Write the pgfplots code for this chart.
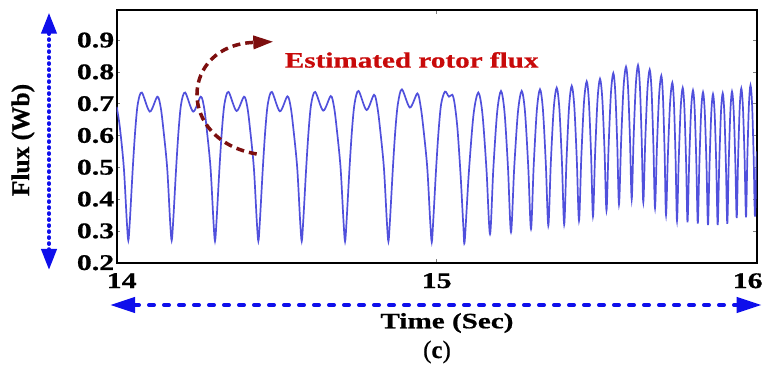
\documentclass[border=0pt]{standalone}
\usepackage{pgfplots}
\pgfplotsset{compat=1.18}
\usepackage{fontspec}
\setmainfont{Liberation Serif}
\newfontfamily\sfont{Liberation Serif}[FakeStretch=1.33, FakeBold=0.7]
\newfontfamily\nfont{Liberation Serif}[FakeBold=0.7]
\usetikzlibrary{arrows.meta}
\definecolor{sig}{RGB}{80,80,220}
\definecolor{maroonar}{RGB}{125,15,15}
\definecolor{annred}{RGB}{200,10,10}
\definecolor{arrblue}{RGB}{15,15,235}
\begin{document}
\begin{tikzpicture}
\useasboundingbox (-116.7bp,-115.3bp) rectangle (647.3bp,262.7bp);
\begin{axis}[
  at={(0,0)}, anchor=south west, scale only axis,
  width=640bp, height=252.2bp,
  xmin=14, xmax=16, ymin=0.2, ymax=0.993,
  xtick={14,15,16}, xticklabels={{\hspace*{10bp}14},15,{16\hspace*{18bp}}},
  ytick={0.2,0.3,0.4,0.5,0.6,0.7,0.8,0.9},
  yticklabels={0.2,0.3,0.4,0.5,0.6,0.7,0.8,0.9},
  tick align=inside, major tick length=3.5bp,
  tick style={gray, line width=0.6bp},
  axis line style={line width=2bp, black},
  tick label style={font=\sfont\bfseries\fontsize{22.5}{26}\selectfont},
  yticklabel style={xshift=1bp},
  xticklabel style={yshift=-7bp},
]
\addplot[sig, line width=1.7bp, smooth, tension=0.5] coordinates {
(14.0000,0.69) (14.0097,0.627) (14.0222,0.50) (14.0316,0.33)
(14.0363,0.27) (14.0410,0.33) (14.0504,0.50) (14.0582,0.62) (14.0660,0.70) (14.0785,0.735) (14.1035,0.675) (14.1269,0.722) (14.1372,0.69) (14.1451,0.627) (14.1576,0.50) (14.1669,0.33)
(14.1718,0.27) (14.1765,0.33) (14.1859,0.50) (14.1937,0.62) (14.2015,0.70) (14.2140,0.735) (14.2390,0.675) (14.2624,0.722) (14.2727,0.69) (14.2806,0.627) (14.2931,0.50) (14.3024,0.33)
(14.3072,0.268) (14.3119,0.33) (14.3213,0.50) (14.3291,0.62) (14.3369,0.70) (14.3494,0.737) (14.3744,0.677) (14.3978,0.722) (14.4081,0.69) (14.4160,0.627) (14.4285,0.50) (14.4378,0.33)
(14.4427,0.268) (14.4474,0.33) (14.4568,0.50) (14.4646,0.62) (14.4724,0.70) (14.4849,0.737) (14.5099,0.676) (14.5333,0.723) (14.5436,0.69) (14.5515,0.627) (14.5640,0.50) (14.5733,0.33)
(14.5782,0.268) (14.5829,0.33) (14.5923,0.50) (14.6001,0.62) (14.6079,0.70) (14.6204,0.737) (14.6454,0.678) (14.6688,0.724) (14.6791,0.69) (14.6870,0.627) (14.6995,0.50) (14.7088,0.33)
(14.7136,0.267) (14.7183,0.33) (14.7277,0.50) (14.7355,0.62) (14.7433,0.70) (14.7558,0.740) (14.7808,0.680) (14.8042,0.728) (14.8145,0.69) (14.8224,0.627) (14.8349,0.50) (14.8442,0.33)
(14.8491,0.267) (14.8538,0.33) (14.8632,0.50) (14.8710,0.62) (14.8788,0.70) (14.8913,0.745) (14.9163,0.688) (14.9397,0.732) (14.9500,0.69) (14.9579,0.627) (14.9704,0.50) (14.9797,0.33)
(14.9846,0.265) (14.9891,0.33) (14.9984,0.50) (15.0063,0.62) (15.0141,0.70) (15.0259,0.738) (15.0384,0.722) (15.0488,0.728) (15.0560,0.70) (15.0650,0.62) (15.0750,0.47) (15.0835,0.31)
(15.0875,0.268) (15.1002,0.480) (15.1151,0.666) (15.1300,0.735) (15.1428,0.669) (15.1556,0.492)
(15.1666,0.290) (15.1769,0.494) (15.1889,0.673) (15.2009,0.740) (15.2119,0.674) (15.2228,0.498)
(15.2322,0.296) (15.2422,0.498) (15.2539,0.674) (15.2656,0.740) (15.2758,0.676) (15.2860,0.503)
(15.2947,0.306) (15.3031,0.505) (15.3130,0.680) (15.3228,0.745) (15.3319,0.682) (15.3410,0.511)
(15.3488,0.317) (15.3566,0.514) (15.3658,0.686) (15.3750,0.750) (15.3832,0.686) (15.3914,0.515)
(15.3984,0.320) (15.4055,0.518) (15.4137,0.691) (15.4219,0.756) (15.4299,0.693) (15.4378,0.524)
(15.4447,0.332) (15.4519,0.531) (15.4603,0.705) (15.4688,0.770) (15.4756,0.707) (15.4825,0.538)
(15.4884,0.346) (15.4950,0.542) (15.5027,0.714) (15.5103,0.778) (15.5174,0.717) (15.5245,0.552)
(15.5306,0.364) (15.5370,0.560) (15.5444,0.732) (15.5519,0.796) (15.5581,0.735) (15.5643,0.571)
(15.5697,0.383) (15.5763,0.580) (15.5839,0.752) (15.5916,0.816) (15.5978,0.754) (15.6040,0.589)
(15.6094,0.400) (15.6153,0.591) (15.6222,0.759) (15.6291,0.821) (15.6349,0.757) (15.6406,0.586)
(15.6456,0.390) (15.6516,0.579) (15.6586,0.745) (15.6656,0.807) (15.6714,0.743) (15.6772,0.569)
(15.6822,0.372) (15.6881,0.561) (15.6950,0.726) (15.7019,0.788) (15.7070,0.723) (15.7122,0.549)
(15.7166,0.350) (15.7225,0.539) (15.7294,0.704) (15.7363,0.766) (15.7414,0.702) (15.7465,0.529)
(15.7509,0.332) (15.7563,0.522) (15.7625,0.688) (15.7688,0.750) (15.7740,0.687) (15.7793,0.519)
(15.7838,0.327) (15.7889,0.515) (15.7949,0.681) (15.8009,0.742) (15.8062,0.680) (15.8114,0.513)
(15.8159,0.323) (15.8208,0.510) (15.8265,0.675) (15.8322,0.736) (15.8377,0.674) (15.8431,0.508)
(15.8478,0.318) (15.8525,0.505) (15.8580,0.669) (15.8634,0.730) (15.8686,0.669) (15.8737,0.505)
(15.8781,0.318) (15.8828,0.506) (15.8883,0.672) (15.8938,0.733) (15.8988,0.672) (15.9038,0.509)
(15.9081,0.322) (15.9125,0.511) (15.9177,0.676) (15.9228,0.738) (15.9280,0.679) (15.9331,0.521)
(15.9375,0.340) (15.9418,0.525) (15.9469,0.688) (15.9519,0.748) (15.9570,0.688) (15.9622,0.527)
(15.9666,0.343) (15.9708,0.531) (15.9757,0.697) (15.9806,0.758) (15.9856,0.697) (15.9905,0.533)
(15.9947,0.345) (16.0000,0.55)
};
\end{axis}
% annotation arrow
\draw[maroonar, line width=3.5bp, dash pattern=on 8bp off 5bp, -{Triangle[length=20bp,width=13bp]}]
  (140bp,108.7bp) .. controls (58.3bp,122.7bp) and (63.3bp,217.7bp) .. (156.6bp,221bp);
\node[annred, font=\sfont\bfseries\fontsize{22}{26}\selectfont] at (295bp,202.7bp) {Estimated rotor flux};
% blue dashed arrows
\draw[arrblue, line width=4bp, line cap=round, dash pattern=on 0.8bp off 5.2bp,
  {Triangle[length=21bp,width=15bp]}-{Triangle[length=21bp,width=15bp]}] (-67.7bp,-7.3bp) -- (-67.7bp,250bp);
\draw[arrblue, line width=4bp, line cap=round, dash pattern=on 5bp off 10bp,
  {Triangle[length=25bp,width=15bp]}-{Triangle[length=25bp,width=15bp]}] (-6.7bp,-42.3bp) -- (645bp,-42.3bp);
% labels
\node[font=\sfont\bfseries\fontsize{22}{26}\selectfont] at (330.3bp,-60.3bp) {Time (Sec)};
\node[font=\nfont\bfseries\fontsize{25.5}{30}\selectfont, rotate=90] at (-93.7bp,122.7bp) {Flux (Wb)};
\node[font=\nfont\fontsize{25}{30}\selectfont] at (320.3bp,-89.3bp) {(\textbf{c})};
\end{tikzpicture}
\end{document}
